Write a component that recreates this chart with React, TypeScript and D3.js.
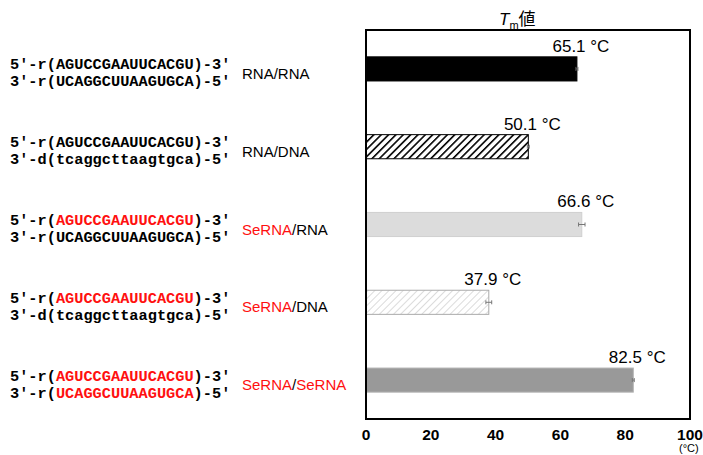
import * as React from "react"
import * as d3 from "d3"

const WIDTH = 703
const HEIGHT = 455

// duplex names and Tm values
const duplexes = ["RNA/RNA", "RNA/DNA", "SeRNA/RNA", "SeRNA/DNA", "SeRNA/SeRNA"]
const tmValues = [65.1, 50.1, 66.6, 37.9, 82.5]
const tmErrors = [0.3, 0.3, 1.0, 0.9, 0.3]
const xTicks = [0, 20, 40, 60, 80, 100]

// strand text: [prefix, sequence, suffix, red?]
const topStrands = [
  ["5′-r(", "AGUCCGAAUUCACGU", ")-3′", false],
  ["5′-r(", "AGUCCGAAUUCACGU", ")-3′", false],
  ["5′-r(", "AGUCCGAAUUCACGU", ")-3′", true],
  ["5′-r(", "AGUCCGAAUUCACGU", ")-3′", true],
  ["5′-r(", "AGUCCGAAUUCACGU", ")-3′", true],
]
const bottomStrands = [
  ["3′-r(", "UCAGGCUUAAGUGCA", ")-5′", false],
  ["3′-d(", "tcaggcttaagtgca", ")-5′", false],
  ["3′-r(", "UCAGGCUUAAGUGCA", ")-5′", false],
  ["3′-d(", "tcaggcttaagtgca", ")-5′", false],
  ["3′-r(", "UCAGGCUUAAGUGCA", ")-5′", true],
]

const RED = "#ff1010"
const MONO = "'Liberation Mono', 'Courier New', monospace"
const SANS = "'Liberation Sans', Arial, Helvetica, sans-serif"

const barFill = ["#000", "url(#hatchDark)", "#dcdcdc", "url(#hatchLight)", "#999"]
const barStroke = ["#000", "#000", "#d0d0d0", "#aaa", "#b5b5b5"]

const left = 366
const right = 690
const top = 30
const bottom = 419

export default function App() {
  const x = d3.scaleLinear().domain([0, 100]).range([left, right])
  const y = d3
    .scaleBand()
    .domain(duplexes)
    .range([top, bottom])
    .paddingInner(0.69)
    .paddingOuter(0.345)
  const bh = y.bandwidth()

  const renderLabel = (name) => {
    const parts = name.split("/")
    return (
      <>
        <tspan fill={parts[0] === "SeRNA" ? RED : "#000"}>{parts[0]}</tspan>
        <tspan fill="#000">/</tspan>
        <tspan fill={parts[1] === "SeRNA" ? RED : "#000"}>{parts[1]}</tspan>
      </>
    )
  }

  return (
    <svg width={WIDTH} height={HEIGHT} style={{ position: "absolute", left: 0, top: 0 }}>
      <defs>
        <pattern id="hatchDark" width="5.2" height="5.2" patternUnits="userSpaceOnUse" patternTransform="rotate(45)">
          <rect width="5.2" height="5.2" fill="#fff" />
          <line x1="0" y1="0" x2="0" y2="5.2" stroke="#000" strokeWidth="3.2" />
        </pattern>
        <pattern id="hatchLight" width="5" height="5" patternUnits="userSpaceOnUse" patternTransform="rotate(45)">
          <rect width="5" height="5" fill="#fff" />
          <line x1="0" y1="0" x2="0" y2="5" stroke="#c8c8c8" strokeWidth="1.3" />
        </pattern>
      </defs>

      {/* title */}
      <text x={499} y={25} fontFamily={SANS} fontSize={17}>
        <tspan fontStyle="italic">T</tspan>
        <tspan fontSize={11} dy={4}>m</tspan>
        <tspan dy={-4} fontFamily="'Noto Sans CJK JP', sans-serif">値</tspan>
      </text>

      {/* bars */}
      {duplexes.map((d, i) => {
        const y0 = y(d)
        const xe = x(tmValues[i])
        const cy = y0 + bh / 2
        const x1 = x(tmValues[i] - tmErrors[i])
        const x2 = x(tmValues[i] + tmErrors[i])
        return (
          <g key={d}>
            <rect x={x(0)} y={y0} width={xe - x(0)} height={bh} fill={barFill[i]} stroke={barStroke[i]} strokeWidth={1} />
            <g stroke={i === 0 ? "#666" : "#777"} strokeWidth={1}>
              <line x1={x1} x2={x2} y1={cy} y2={cy} />
              <line x1={x1} x2={x1} y1={cy - 2} y2={cy + 2} />
              <line x1={x2} x2={x2} y1={cy - 2} y2={cy + 2} />
            </g>
            <text x={xe + 4} y={y0 - 5} textAnchor="middle" fontFamily={SANS} fontSize={17}>
              {tmValues[i].toFixed(1) + " °C"}
            </text>
          </g>
        )
      })}

      {/* frame */}
      <rect x={left} y={top} width={right - left} height={bottom - top} fill="none" stroke="#000" strokeWidth={2} />

      {/* x tick labels */}
      {xTicks.map((t) => (
        <text key={t} x={x(t)} y={440} textAnchor="middle" fontFamily={SANS} fontWeight="bold" fontSize={15.5}>
          {t}
        </text>
      ))}
      <text x={679} y={452} fontFamily={SANS} fontSize={11}>(°C)</text>

      {/* sequences and duplex labels */}
      {duplexes.map((d, i) => {
        const c = y(d) + bh / 2
        const ts = topStrands[i]
        const bs = bottomStrands[i]
        return (
          <g key={"s" + d}>
            <text x={10} y={c + 0.5} fontFamily={MONO} fontWeight="bold" fontSize={15.3}>
              {ts[0]}
              <tspan fill={ts[3] ? RED : "#000"}>{ts[1]}</tspan>
              {ts[2]}
            </text>
            <text x={10} y={c + 17.5} fontFamily={MONO} fontWeight="bold" fontSize={15.3}>
              {bs[0]}
              <tspan fill={bs[3] ? RED : "#000"}>{bs[1]}</tspan>
              {bs[2]}
            </text>
            <text x={242} y={c + 10} fontFamily={SANS} fontSize={15}>
              {renderLabel(d)}
            </text>
          </g>
        )
      })}
    </svg>
  )
}
